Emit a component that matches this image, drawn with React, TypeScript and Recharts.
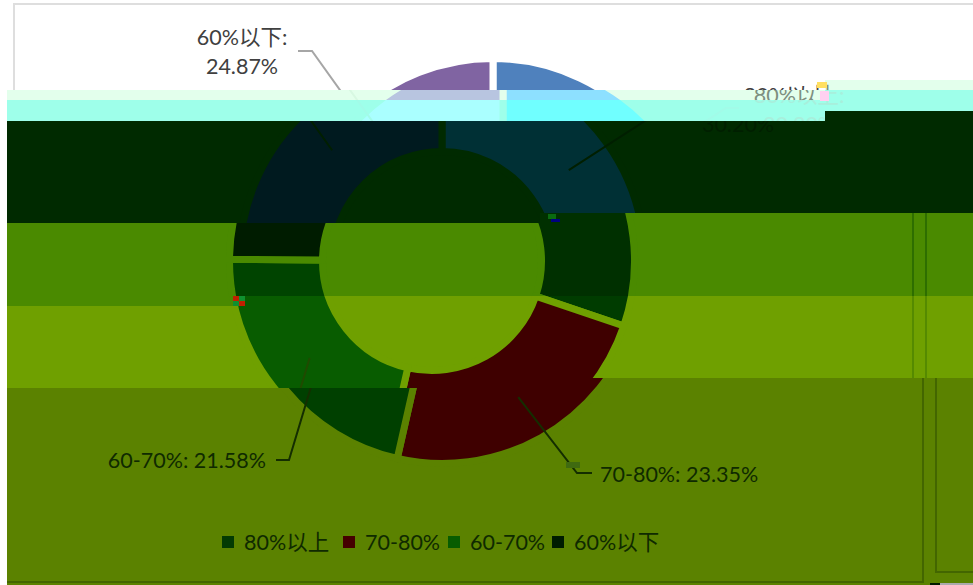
import { Legend, Pie, PieChart, Cell } from 'recharts'

const names = ['80%以上', '70-80%', '60-70%', '60%以下']
const shares = [30.2, 23.35, 21.58, 24.87]
const legendColors = ['#033a03', '#450000', '#075c00', '#001c00']
const legendWidths = [121, 105, 104, 120]

const FONT = 'Lato, "Noto Sans CJK SC", sans-serif'
const CX = 432
const CY = 261

const data = names.map((name, i) => ({ name, value: shares[i] }))

// label anchor, leader end + knee, relative to the undisplaced chart
const labelSpots = [
  { end: [668, 108], knee: [655, 108], x: 728, y: 103, anchor: 'middle', twoLines: true },
  { end: [582, 473], knee: [567, 473], x: 590, y: 482, anchor: 'start', twoLines: false },
  { end: [266, 460], knee: [279, 460], x: 256, y: 468, anchor: 'end', twoLines: false },
  { end: [237, 51], knee: [251, 51], x: 181, y: 45, anchor: 'middle', twoLines: true },
]

// the picture is torn into horizontal strips, each with its own colours and sideways shift
type Band = {
  top: [number, number]
  bottom: [number, number]
  topBreak: number
  bottomBreak: number
  left: number
  shift: number
  bg: string
  slices: string[]
  text: string
  line: string
  frame: string
}

const bands: Band[] = [
  {
    top: [0, 0], bottom: [90, 80], topBreak: 825, bottomBreak: 825, left: 0, shift: 61, bg: '#ffffff',
    slices: ['#4f81bd', '#c0504d', '#9bbb59', '#8064a2'], text: '#404040', line: '#a6a6a6', frame: '#dedede',
  },
  {
    top: [90, 80], bottom: [100, 90], topBreak: 825, bottomBreak: 825, left: 7, shift: 71, bg: '#e3ffec',
    slices: ['#8de0ff', '#c0504d', '#9bbb59', '#b8c5e0'], text: '#7d8f80', line: '#d8f8e2', frame: '#e3ffec',
  },
  {
    top: [100, 90], bottom: [121, 111], topBreak: 825, bottomBreak: 825, left: 7, shift: 71, bg: '#9effea',
    slices: ['#70ffff', '#c0504d', '#9bbb59', '#aaffff'], text: '#a8efdc', line: '#a2fbe8', frame: '#9effea',
  },
  {
    top: [121, 111], bottom: [223, 213], topBreak: 825, bottomBreak: 540, left: 7, shift: 10, bg: '#002a00',
    slices: ['#003035', '#3f0000', '#004400', '#001a1f'], text: '#001f00', line: '#001f00', frame: '#002a00',
  },
  {
    top: [223, 213], bottom: [306, 296], topBreak: 540, bottomBreak: 233, left: 7, shift: 0, bg: '#4a8a00',
    slices: ['#003000', '#3f0000', '#004400', '#001c00'], text: '#0f2a00', line: '#0f3a00', frame: '#2e6e00',
  },
  {
    top: [306, 296], bottom: [388, 378], topBreak: 233, bottomBreak: 581, left: 7, shift: 0, bg: '#6fa000',
    slices: ['#003c00', '#3f0000', '#085c00', '#001c00'], text: '#0f2a00', line: '#1f4a00', frame: '#558a00',
  },
  {
    top: [388, 378], bottom: [585, 585], topBreak: 581, bottomBreak: 581, left: 7, shift: 10, bg: '#5b8200',
    slices: ['#003000', '#3f0000', '#004000', '#001c00'], text: '#0f2a00', line: '#142e00', frame: '#436600',
  },
]

// small damaged blocks where the strips join
const specks = [
  { x: 233, y: 296, w: 6, h: 5, c: '#c02000' },
  { x: 239, y: 296, w: 6, h: 5, c: '#109030' },
  { x: 233, y: 301, w: 6, h: 5, c: '#109030' },
  { x: 239, y: 301, w: 6, h: 5, c: '#c02000' },
  { x: 548, y: 214, w: 8, h: 5, c: '#0a6a10' },
  { x: 551, y: 219, w: 9, h: 3, c: '#000080' },
  { x: 817, y: 82, w: 10, h: 6, c: '#ffe060' },
  { x: 820, y: 91, w: 9, h: 10, c: '#ffd0f0' },
  { x: 566, y: 462, w: 14, h: 6, c: '#3f6a10' },
  { x: 930, y: 583, w: 10, h: 2, c: '#001c00' },
  { x: 940, y: 583, w: 33, h: 2, c: '#aaaaaa' },
]

function bandClip(b: Band) {
  const pts = [
    [b.left, b.top[0]],
    [b.topBreak, b.top[0]],
    [b.topBreak, b.top[1]],
    [973, b.top[1]],
    [973, b.bottom[1]],
    [b.bottomBreak, b.bottom[1]],
    [b.bottomBreak, b.bottom[0]],
    [b.left, b.bottom[0]],
  ]
  return `polygon(${pts.map(([x, y]) => `${x}px ${y}px`).join(',')})`
}

// a strip only carries the text that shows through it
function textInBand(band: Band, spot: (typeof labelSpots)[number]) {
  const textTop = spot.y - 20
  const textBottom = spot.y + (spot.twoLines ? 36 : 7)
  return textBottom > Math.min(...band.top) && textTop < Math.max(...band.bottom)
}

function makeLabel(band: Band) {
  return function SliceLabel(props: any) {
    const { cx, cy, midAngle, index, name, value } = props
    const spot = labelSpots[index]
    const r = 156
    const rad = (-midAngle * Math.PI) / 180
    const sx = cx + r * Math.cos(rad)
    const sy = cy + r * Math.sin(rad)
    const pct = `${Number(value).toFixed(2)}%`
    return (
      <g>
        <polyline
          points={`${sx},${sy} ${spot.knee[0]},${spot.knee[1]} ${spot.end[0]},${spot.end[1]}`}
          fill="none"
          stroke={band.line}
          strokeWidth={2}
        />
        {textInBand(band, spot) && (
          <text x={spot.x} y={spot.y} textAnchor={spot.anchor as any} fill={band.text} fontFamily={FONT} fontSize={21.5}>
            {spot.twoLines ? (
              <>
                <tspan x={spot.x}>{`${name}:`}</tspan>
                <tspan x={spot.x} dy={29}>{pct}</tspan>
              </>
            ) : (
              `${name}: ${pct}`
            )}
          </text>
        )}
      </g>
    )
  }
}

function LegendRow({ color }: { color: string }) {
  return (
    <div style={{ display: 'flex', alignItems: 'center', fontFamily: FONT, fontSize: 21.5, color, lineHeight: '26px' }}>
      {names.map((name, i) => (
        <span key={name} style={{ display: 'flex', alignItems: 'center', width: legendWidths[i] }}>
          <span style={{ width: 12, height: 12, background: legendColors[i], marginRight: 10 }} />
          {name}
        </span>
      ))}
    </div>
  )
}

function Strip({ band, showLegend }: { band: Band; showLegend: boolean }) {
  return (
    <div style={{ position: 'absolute', inset: 0, background: band.bg, clipPath: bandClip(band) }}>
      <div style={{ position: 'absolute', left: band.shift, top: 0, width: 973, height: 585 }}>
        <div
          style={{
            position: 'absolute', left: -48, top: 3, width: 958, height: 576,
            border: `2px solid ${band.frame}`,
          }}
        />
        <div
          style={{
            position: 'absolute', left: 925, top: 3, width: 300, height: 566,
            border: `2px solid ${band.frame}`,
          }}
        />
        <PieChart width={973} height={585} margin={{ top: 0, right: 0, bottom: 0, left: 0 }}>
          <Pie
            data={data}
            dataKey="value"
            nameKey="name"
            cx={CX}
            cy={CY}
            innerRadius={109.5}
            outerRadius={202.5}
            startAngle={90}
            endAngle={-270}
            stroke={band.bg}
            strokeWidth={7}
            label={makeLabel(band)}
            labelLine={false}
            isAnimationActive={false}
          >
            {data.map((_, i) => (
              <Cell key={`cell-${i}`} fill={band.slices[i]} stroke={band.bg} strokeWidth={7} />
            ))}
          </Pie>
          {showLegend && (
            <Legend
              content={() => <LegendRow color={band.text} />}
              wrapperStyle={{ position: 'absolute', left: 212, top: 529, width: 600, height: 30, bottom: 'auto' }}
            />
          )}
        </PieChart>
      </div>
    </div>
  )
}

export default function App() {
  return (
    <div style={{ position: 'absolute', left: 0, top: 0, width: 973, height: 585, overflow: 'hidden', background: '#fff' }}>
      {bands.map((band, i) => (
        <Strip key={i} band={band} showLegend={i === bands.length - 1} />
      ))}
      {specks.map((s, i) => (
        <div key={i} style={{ position: 'absolute', left: s.x, top: s.y, width: s.w, height: s.h, background: s.c }} />
      ))}
    </div>
  )
}
